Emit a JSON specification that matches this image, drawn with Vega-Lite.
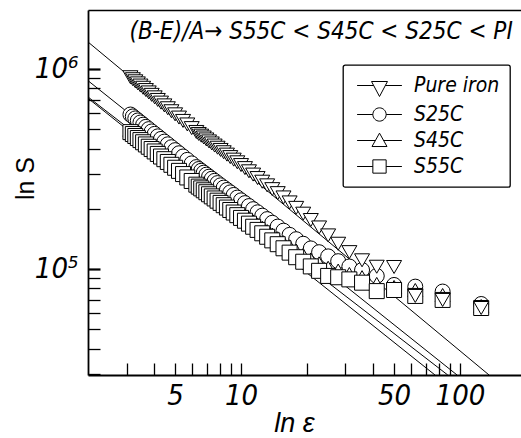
{
  "$schema": "https://vega.github.io/schema/vega-lite/v6.json",
  "width": 433,
  "height": 365,
  "autosize": {"type": "none"},
  "padding": {"left": 88, "top": 10, "right": 0, "bottom": 63},
  "background": "white",
  "config": {
    "view": {"stroke": null},
    "axis": {"grid": false, "domainColor": "black", "tickColor": "black", "labelColor": "black", "titleColor": "black"},
    "legend": {"strokeWidth": 1.3}
  },
  "resolve": {"axis": {"x": "independent"}},
  "datasets": {
    "pts": [
      {"x": 3.125, "PI": 909400, "S25C": 591900, "S45C": 496500, "S55C": 483300},
      {"x": 3.205, "PI": 888700, "S25C": 579000, "S45C": 486000, "S55C": 472800},
      {"x": 3.289, "PI": 867900, "S25C": 566000, "S45C": 475400, "S55C": 462100},
      {"x": 3.378, "PI": 847200, "S25C": 552900, "S45C": 464800, "S55C": 451500},
      {"x": 3.472, "PI": 826300, "S25C": 539900, "S45C": 454100, "S55C": 440900},
      {"x": 3.571, "PI": 805400, "S25C": 526700, "S45C": 443400, "S55C": 430100},
      {"x": 3.676, "PI": 784500, "S25C": 513600, "S45C": 432700, "S55C": 419400},
      {"x": 3.788, "PI": 763500, "S25C": 500400, "S45C": 421900, "S55C": 408500},
      {"x": 3.906, "PI": 742400, "S25C": 487100, "S45C": 410900, "S55C": 397800},
      {"x": 4.032, "PI": 721300, "S25C": 473800, "S45C": 400200, "S55C": 386900},
      {"x": 4.167, "PI": 700100, "S25C": 460400, "S45C": 389200, "S55C": 376000},
      {"x": 4.31, "PI": 678900, "S25C": 447000, "S45C": 378200, "S55C": 365000},
      {"x": 4.464, "PI": 657600, "S25C": 433300, "S45C": 367100, "S55C": 354000},
      {"x": 4.63, "PI": 636200, "S25C": 420000, "S45C": 356000, "S55C": 342900},
      {"x": 4.808, "PI": 614700, "S25C": 406300, "S45C": 344800, "S55C": 331800},
      {"x": 5, "PI": 593200, "S25C": 392700, "S45C": 333600, "S55C": 320700},
      {"x": 5.208, "PI": 571600, "S25C": 378900, "S45C": 322300, "S55C": 309400},
      {"x": 5.435, "PI": 549900, "S25C": 365100, "S45C": 310900, "S55C": 298200},
      {"x": 5.682, "PI": 528100, "S25C": 351200, "S45C": 299400, "S55C": 286800},
      {"x": 5.952, "PI": 506200, "S25C": 337200, "S45C": 287800, "S55C": 275400},
      {"x": 6.25, "PI": 484300, "S25C": 323200, "S45C": 276200, "S55C": 263900},
      {"x": 6.41, "PI": 473300, "S25C": 316100, "S45C": 270400, "S55C": 258100},
      {"x": 6.579, "PI": 464100, "S25C": 309700, "S45C": 265000, "S55C": 252900},
      {"x": 6.757, "PI": 454300, "S25C": 303000, "S45C": 259500, "S55C": 247400},
      {"x": 6.944, "PI": 444300, "S25C": 296200, "S45C": 253900, "S55C": 241900},
      {"x": 7.143, "PI": 434300, "S25C": 289400, "S45C": 248200, "S55C": 236300},
      {"x": 7.353, "PI": 424300, "S25C": 282600, "S45C": 242600, "S55C": 230700},
      {"x": 7.576, "PI": 414100, "S25C": 275800, "S45C": 236900, "S55C": 225200},
      {"x": 7.813, "PI": 403900, "S25C": 268800, "S45C": 231100, "S55C": 219500},
      {"x": 8.065, "PI": 393700, "S25C": 262000, "S45C": 225500, "S55C": 214000},
      {"x": 8.333, "PI": 383400, "S25C": 255200, "S45C": 219800, "S55C": 208400},
      {"x": 8.621, "PI": 373000, "S25C": 248300, "S45C": 214100, "S55C": 202800},
      {"x": 8.929, "PI": 362600, "S25C": 241500, "S45C": 208400, "S55C": 197200},
      {"x": 9.259, "PI": 352100, "S25C": 234500, "S45C": 202600, "S55C": 191500},
      {"x": 9.615, "PI": 341500, "S25C": 227500, "S45C": 196700, "S55C": 185800},
      {"x": 10, "PI": 330800, "S25C": 220400, "S45C": 190800, "S55C": 180000},
      {"x": 10.42, "PI": 319400, "S25C": 213400, "S45C": 184900, "S55C": 174300},
      {"x": 10.87, "PI": 307900, "S25C": 206300, "S45C": 179000, "S55C": 168500},
      {"x": 11.36, "PI": 296400, "S25C": 199100, "S45C": 173000, "S55C": 162600},
      {"x": 11.9, "PI": 284800, "S25C": 192000, "S45C": 167000, "S55C": 156800},
      {"x": 12.5, "PI": 273100, "S25C": 184700, "S45C": 160800, "S55C": 150800},
      {"x": 13.16, "PI": 261900, "S25C": 177500, "S45C": 154700, "S55C": 144900},
      {"x": 13.89, "PI": 250700, "S25C": 170200, "S45C": 148600, "S55C": 139000},
      {"x": 14.71, "PI": 239400, "S25C": 162900, "S45C": 142500, "S55C": 133000},
      {"x": 15.63, "PI": 227900, "S25C": 155400, "S45C": 136100, "S55C": 126900},
      {"x": 16.67, "PI": 215200, "S25C": 148100, "S45C": 129900, "S55C": 120700},
      {"x": 17.86, "PI": 202100, "S25C": 140900, "S45C": 123600, "S55C": 114500},
      {"x": 19.23, "PI": 189000, "S25C": 133700, "S45C": 117500, "S55C": 108700},
      {"x": 20.83, "PI": 175700, "S25C": 126700, "S45C": 111600, "S55C": 103000},
      {"x": 22.73, "PI": 161300, "S25C": 121300, "S45C": 106700, "S55C": 97900},
      {"x": 25, "PI": 147200, "S25C": 115600, "S45C": 101400, "S55C": 92300},
      {"x": 27.78, "PI": 133700, "S25C": 109400, "S45C": 98200, "S55C": 90900},
      {"x": 31.25, "PI": 121400, "S25C": 102900, "S45C": 94400, "S55C": 88700},
      {"x": 35.71, "PI": 110500, "S25C": 98800, "S45C": 91000, "S55C": 85400},
      {"x": 41.67, "PI": 102600, "S25C": 92300, "S45C": 84200, "S55C": 77500},
      {"x": 50, "PI": 102300, "S25C": 83200, "S45C": 81300, "S55C": 78500},
      {"x": 62.5, "PI": 73300, "S25C": 81600, "S45C": 78500, "S55C": 73300},
      {"x": 83.33, "PI": 70000, "S25C": 77100, "S45C": 74100, "S55C": 70000},
      {"x": 125, "PI": 63800, "S25C": 66800, "S45C": 65300, "S55C": 63800}
    ],
    "fits": [
      {"s": "Pure iron", "x": 2, "y": 1364600}, {"s": "Pure iron", "x": 135.8, "y": 29500},
      {"s": "S25C", "x": 2, "y": 874000}, {"s": "S25C", "x": 97, "y": 29500},
      {"s": "S45C", "x": 2, "y": 724400}, {"s": "S45C", "x": 87.95, "y": 29500},
      {"s": "S55C", "x": 2, "y": 713600}, {"s": "S55C", "x": 76.9, "y": 29500}
    ]
  },
  "layer": [
    {
      "data": {"name": "fits"},
      "mark": {"type": "line", "stroke": "black", "strokeWidth": 1, "clip": true},
      "encoding": {
        "x": {
          "field": "x", "type": "quantitative",
          "scale": {"type": "log", "domain": [2, 190], "nice": false},
          "axis": {
            "values": [3, 4, 5, 6, 7, 8, 9, 10, 20, 30, 40, 50, 60, 70, 80, 90, 100],
            "labelExpr": "(datum.value == 5 || datum.value == 10 || datum.value == 50 || datum.value == 100) ? ('' + datum.value) : ''",
            "tickSize": -12,
            "tickWidth": 1.3,
            "labelPadding": 18,
            "labelOverlap": false,
            "labelFlush": false,
            "labelFont": "Liberation Sans Narrow, DejaVu Sans Condensed, Liberation Sans",
            "labelFontSize": 29,
            "labelFontStyle": "italic",
            "domainWidth": 1.8,
            "title": "ln ε",
            "titleFont": "Liberation Sans, DejaVu Sans",
            "titleFontSize": 27,
            "titleFontStyle": "italic",
            "titleFontWeight": "normal",
            "titleX": 206,
            "titleY": 56,
            "titleBaseline": "alphabetic",
            "titleAlign": "center"
          }
        },
        "y": {
          "field": "y", "type": "quantitative",
          "scale": {"type": "log", "domain": [29500, 1972000], "nice": false},
          "axis": {
            "values": [30000, 40000, 50000, 60000, 70000, 80000, 90000, 100000, 200000, 300000, 400000, 500000, 600000, 700000, 800000, 900000, 1000000],
            "labelExpr": "datum.value == 100000 ? '10⁵' : (datum.value == 1000000 ? '10⁶' : '')",
            "tickSize": -12,
            "tickWidth": {"condition": {"test": "datum.value == 100000 || datum.value == 1000000", "value": 2.2}, "value": 1.3},
            "labelPadding": 22,
            "labelOverlap": false,
            "labelFlush": false,
            "labelFont": "Liberation Sans Narrow, DejaVu Sans Condensed, Liberation Sans",
            "labelFontSize": 29,
            "labelFontStyle": "italic",
            "domainWidth": 1.8,
            "title": "ln S",
            "titleFont": "Liberation Sans, DejaVu Sans",
            "titleFontSize": 25,
            "titleFontWeight": "normal",
            "titleAngle": -90,
            "titleX": -55,
            "titleY": 168,
            "titleBaseline": "alphabetic",
            "titleAlign": "center"
          }
        },
        "detail": {"field": "s", "type": "nominal"}
      }
    },
    {
      "mark": {"type": "rule", "stroke": "black", "strokeWidth": 1.2, "strokeDash": [8, 5]},
      "encoding": {"y": {"datum": 63100, "type": "quantitative"}}
    },
    {
      "data": {"name": "pts"},
      "mark": {"type": "point", "shape": "circle", "fill": "white", "stroke": "black", "strokeWidth": 1, "opacity": 1, "fillOpacity": 1, "size": 225, "clip": true},
      "encoding": {
        "x": {
          "field": "x", "type": "quantitative",
          "axis": {
            "orient": "top",
            "ticks": false,
            "labels": false,
            "domain": true,
            "domainWidth": 1.6,
            "title": "(B-E)/A→ S55C < S45C < S25C < PI",
            "titleFont": "Liberation Sans Narrow, DejaVu Sans Condensed, Liberation Sans",
            "titleFontSize": 24,
            "titleFontStyle": "italic",
            "titleFontWeight": "normal",
            "titleAlign": "left",
            "titleX": 41,
            "titleY": 28,
            "titleBaseline": "alphabetic"
          }
        },
        "y": {"field": "S25C", "type": "quantitative", "title": "ln S"}
      }
    },
    {
      "data": {"name": "pts"},
      "mark": {"type": "point", "shape": "triangle-up", "fill": "white", "stroke": "black", "strokeWidth": 1, "opacity": 1, "fillOpacity": 1, "size": 225, "clip": true},
      "encoding": {
        "x": {"field": "x", "type": "quantitative", "axis": null},
        "y": {"field": "S45C", "type": "quantitative", "title": "ln S"}
      }
    },
    {
      "data": {"name": "pts"},
      "mark": {"type": "point", "shape": "square", "fill": "white", "stroke": "black", "strokeWidth": 1, "opacity": 1, "fillOpacity": 1, "size": 225, "clip": true},
      "encoding": {
        "x": {"field": "x", "type": "quantitative", "axis": null},
        "y": {"field": "S55C", "type": "quantitative", "title": "ln S"}
      }
    },
    {
      "data": {"name": "pts"},
      "mark": {"type": "point", "shape": "triangle-down", "fill": "white", "stroke": "black", "strokeWidth": 1, "opacity": 1, "fillOpacity": 1, "size": 225, "clip": true},
      "encoding": {
        "x": {"field": "x", "type": "quantitative", "axis": null},
        "y": {"field": "PI", "type": "quantitative", "title": "ln S"}
      }
    },
    {
      "data": {"name": "fits"},
      "mark": {"type": "point", "fill": "white", "stroke": "black", "strokeWidth": 1, "opacity": 0, "clip": true},
      "encoding": {
        "x": {"field": "x", "type": "quantitative", "axis": null},
        "y": {"field": "y", "type": "quantitative", "title": "ln S"},
        "shape": {
          "field": "s", "type": "nominal",
          "scale": {
            "domain": ["Pure iron", "S25C", "S45C", "S55C"],
            "range": [
              "M-3.2,0H-0.84M0.84,0H3.2M-1.14,-0.57L1.14,-0.57L0,1.57Z",
              "M-3.2,0H-0.95M0.95,0H3.2M0.95,0A0.95,0.95 0 1 1 -0.95,0A0.95,0.95 0 1 1 0.95,0Z",
              "M-3.2,0H-0.59M0.59,0H3.2M0,-1.05L1.07,0.86L-1.07,0.86Z",
              "M-3.2,0H-0.95M0.95,0H3.2M-0.95,-0.95H0.95V0.95H-0.95Z"
            ]
          },
          "legend": {
            "title": null,
            "orient": "none",
            "legendX": 255,
            "legendY": 55,
            "padding": 10,
            "strokeColor": "black",
            "cornerRadius": 2,
            "fillColor": "white",
            "symbolSize": 196,
            "symbolOffset": 16,
            "symbolOpacity": 1,
            "symbolStrokeWidth": 1,
            "labelOffset": 24,
            "rowPadding": 4,
            "labelFont": "Liberation Sans Narrow, DejaVu Sans Condensed, Liberation Sans",
            "labelFontSize": 21,
            "labelFontStyle": "italic",
            "labelColor": "black",
            "labelBaseline": "middle"
          }
        }
      }
    }
  ]
}
